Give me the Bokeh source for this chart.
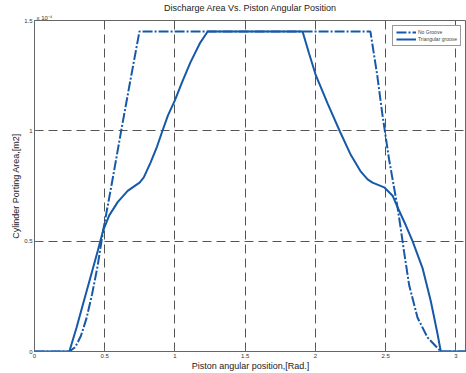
from bokeh.plotting import figure
from bokeh.models import Range1d, FixedTicker, Legend, LegendItem, Title
from bokeh.embed import file_html
from bokeh.resources import INLINE

# Piston angular position [rad] and porting area [x 1e-4 m^2]
ng_x = [0.0, 0.248, 0.29, 0.33, 0.37, 0.41, 0.45, 0.489, 0.55, 0.617, 0.68, 0.747,
        2.391, 2.44, 2.475, 2.524, 2.584, 2.607, 2.631, 2.667, 2.726, 2.797, 2.892, 3.2]
ng_y = [0.0, 0.0, 0.02, 0.07, 0.15, 0.26, 0.39, 0.549, 0.76, 1.0, 1.22, 1.45,
        1.45, 1.25, 1.08, 0.87, 0.654, 0.557, 0.45, 0.30, 0.154, 0.064, 0.0, 0.0]

tri_x = [0.0, 0.248, 0.30, 0.35, 0.40, 0.45, 0.489, 0.532, 0.592, 0.663, 0.722, 0.748,
         0.778, 0.826, 0.873, 0.909, 0.95, 1.0, 1.05, 1.11, 1.18, 1.233,
         1.908, 1.955, 2.003, 2.086, 2.174, 2.252, 2.323, 2.371, 2.406, 2.489, 2.549,
         2.584, 2.643, 2.691, 2.762, 2.821, 2.869, 2.892, 3.2]
tri_y = [0.0, 0.0, 0.11, 0.225, 0.34, 0.455, 0.549, 0.617, 0.677, 0.728, 0.754, 0.765,
         0.789, 0.856, 0.93, 0.997, 1.07, 1.139, 1.22, 1.31, 1.40, 1.45,
         1.45, 1.349, 1.251, 1.124, 0.997, 0.89, 0.815, 0.78, 0.765, 0.744, 0.706,
         0.654, 0.572, 0.50, 0.378, 0.228, 0.079, 0.0, 0.0]

series_labels = ["No Groove", "Triangular groove"]
x_ticks = [0, 0.5, 1, 1.5, 2, 2.5, 3]
x_tick_labels = ["0", "0.5", "1", "1.5", "2", "2.5", "3"]
y_ticks = [0, 0.5, 1, 1.5]
y_tick_labels = ["0", "0.5", "1", "1.5"]

FONT = "Liberation Sans"
BLUE = "#1559a8"

p = figure(width=466, height=373, output_backend="svg", toolbar_location=None,
           x_range=Range1d(0, 3.075), y_range=Range1d(0, 1.5),
           min_border_left=34, min_border_right=0, min_border_top=20, min_border_bottom=0)

scale_title = Title(text="x 10⁻⁴", align="left", text_font=FONT, text_font_size="6px",
                    text_font_style="normal", text_color="#333333", standoff=0, offset=2)
p.add_layout(scale_title, "above")
main_title = Title(text="Discharge Area Vs. Piston Angular Position", align="center",
                   text_font=FONT, text_font_size="9px", text_font_style="normal",
                   text_color="#222222", standoff=0)
p.add_layout(main_title, "above")

p.outline_line_color = "#666666"
p.outline_line_width = 1

for ax, ticks, labels in ((p.xaxis[0], x_ticks, x_tick_labels), (p.yaxis[0], y_ticks, y_tick_labels)):
    ax.ticker = FixedTicker(ticks=ticks)
    ax.major_label_overrides = {t: l for t, l in zip(ticks, labels)}
    ax.minor_tick_line_color = None
    ax.major_tick_in = 4
    ax.major_tick_out = 0
    ax.major_tick_line_color = "#666666"
    ax.axis_line_color = "#666666"
    ax.major_label_text_font = FONT
    ax.major_label_text_font_size = "6px"
    ax.major_label_text_color = "#333333"
    ax.major_label_standoff = 2
    ax.axis_label_text_font = FONT
    ax.axis_label_text_font_size = "9px"
    ax.axis_label_text_font_style = "normal"
    ax.axis_label_text_color = "#222222"
    ax.axis_label_standoff = 0

p.xaxis.major_label_standoff = 2
p.xaxis.axis_label = "Piston angular position,[Rad.]"
p.yaxis.axis_label = "Cylinder Porting Area,[m2]"

for g, ticks in ((p.xgrid[0], x_ticks), (p.ygrid[0], y_ticks)):
    g.ticker = FixedTicker(ticks=ticks)
    g.grid_line_color = "#555555"
    g.grid_line_dash = "9 5"
    g.grid_line_width = 1

r1 = p.line(ng_x, ng_y, line_color=BLUE, line_width=2, line_dash="10 2 2 2")
r2 = p.line(tri_x, tri_y, line_color=BLUE, line_width=2)

legend = Legend(items=[LegendItem(label=series_labels[0], renderers=[r1]),
                       LegendItem(label=series_labels[1], renderers=[r2])],
                location="top_right")
legend.label_text_font = FONT
legend.label_text_font_size = "5px"
legend.label_height = 6
legend.glyph_height = 6
legend.glyph_width = 20
legend.label_standoff = 2
legend.spacing = 1
legend.padding = 3
legend.margin = 5
legend.border_line_color = "#333333"
legend.border_line_width = 1
legend.background_fill_alpha = 1
p.add_layout(legend)

open("out.html", "w").write(file_html(p, INLINE))
